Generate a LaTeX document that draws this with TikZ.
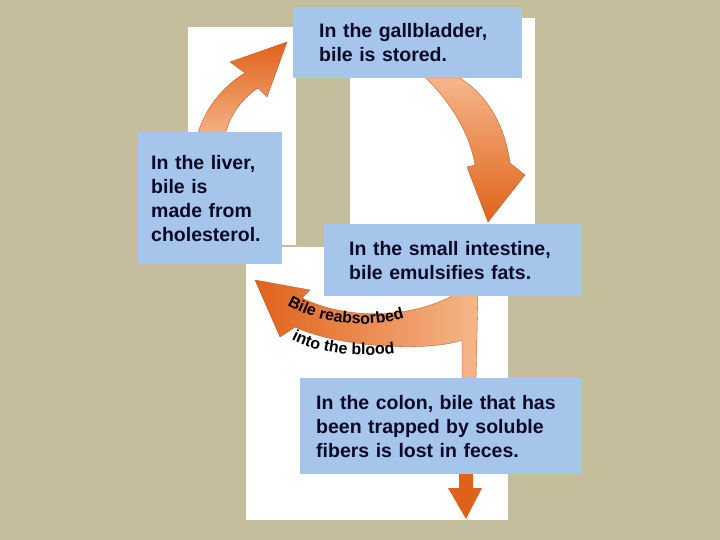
\documentclass[tikz,border=0pt]{standalone}
\usepackage{fontspec}
\setmainfont{Liberation Sans}
\usetikzlibrary{decorations.text}
\definecolor{bg}{HTML}{C4BE9C}
\definecolor{boxblue}{HTML}{A5C5EA}
\definecolor{ordark}{HTML}{E0621A}
\definecolor{orlight}{HTML}{F5B68A}
\definecolor{txt}{HTML}{0A0A28}
\tikzset{
  infobox/.style={fill=boxblue, draw=none, anchor=north west, align=left, font=\fontsize{19.5}{24}\selectfont\bfseries, text=txt, inner ysep=0pt},
  panel/.style={fill=white, draw=none},
  arrowbody/.style={draw=ordark!80!black, line width=0.3pt}
}
\begin{document}
\begin{tikzpicture}[x=1pt,y=-1pt]
\fill[bg] (0,0) rectangle (720,540);
\useasboundingbox (0,0) rectangle (720,540);
% white panels
\fill[panel] (188,27) rectangle (296,245);
\fill[panel] (350,18) rectangle (535,245);
\fill[panel] (246,247) rectangle (508,520);
% arrows
\shade[arrowbody, top color=ordark, bottom color=orlight]
  (196,140) .. controls (203,110) and (223,86) .. (245,73) -- (230,62) -- (287,42) -- (267,97) -- (258,88) .. controls (240,100) and (228,118) .. (224,140) -- cycle;
\shade[arrowbody, top color=orlight, bottom color=ordark]
  (426,78) .. controls (453,105) and (470,135) .. (475,165) -- (467,167) -- (488,222) -- (525,175) -- (510,163) .. controls (505,125) and (487,95) .. (460,78) -- cycle;
\shade[arrowbody, left color=ordark, right color=orlight]
  (255,280) -- (310,290) -- (302,298) .. controls (350,322) and (420,318) .. (462,290) -- (478,290) -- (476,380) -- (462,380) -- (462,340) .. controls (430,352) and (340,348) .. (295,327) -- (280,337) -- cycle;
\fill[ordark] (459,470) -- (459,488) -- (448,488) -- (466,519) -- (482,488) -- (473,488) -- (473,470) -- cycle;
% curved texts
\path[decorate, decoration={text along path, text align=center, text={|\fontsize{16}{16}\selectfont\bfseries|Bile reabsorbed}}]
  (282,302) .. controls (320,326) and (370,330) .. (410,316);
\path[decorate, decoration={text along path, text align=center, text={|\fontsize{16}{16}\selectfont\bfseries|into the blood}}]
  (285,336) .. controls (320,356) and (360,358) .. (402,352);
% boxes
\node[infobox, inner xsep=26pt, text width=177pt, minimum height=71pt] (gall) at (293,7) {In the gallbladder,\\bile is stored.};
\node[infobox, inner xsep=13pt, text width=118pt, minimum height=132pt] (liver) at (138,132) {In the liver,\\bile is\\made from\\cholesterol.};
\node[infobox, inner xsep=25pt, text width=208pt, minimum height=72pt] (small) at (324,224) {In the small intestine,\\bile emulsifies fats.};
\node[infobox, inner xsep=16pt, text width=250pt, minimum height=96pt] (colon) at (300,378) {In the colon, bile that has\\been trapped by soluble\\fibers is lost in feces.};
\end{tikzpicture}
\end{document}
